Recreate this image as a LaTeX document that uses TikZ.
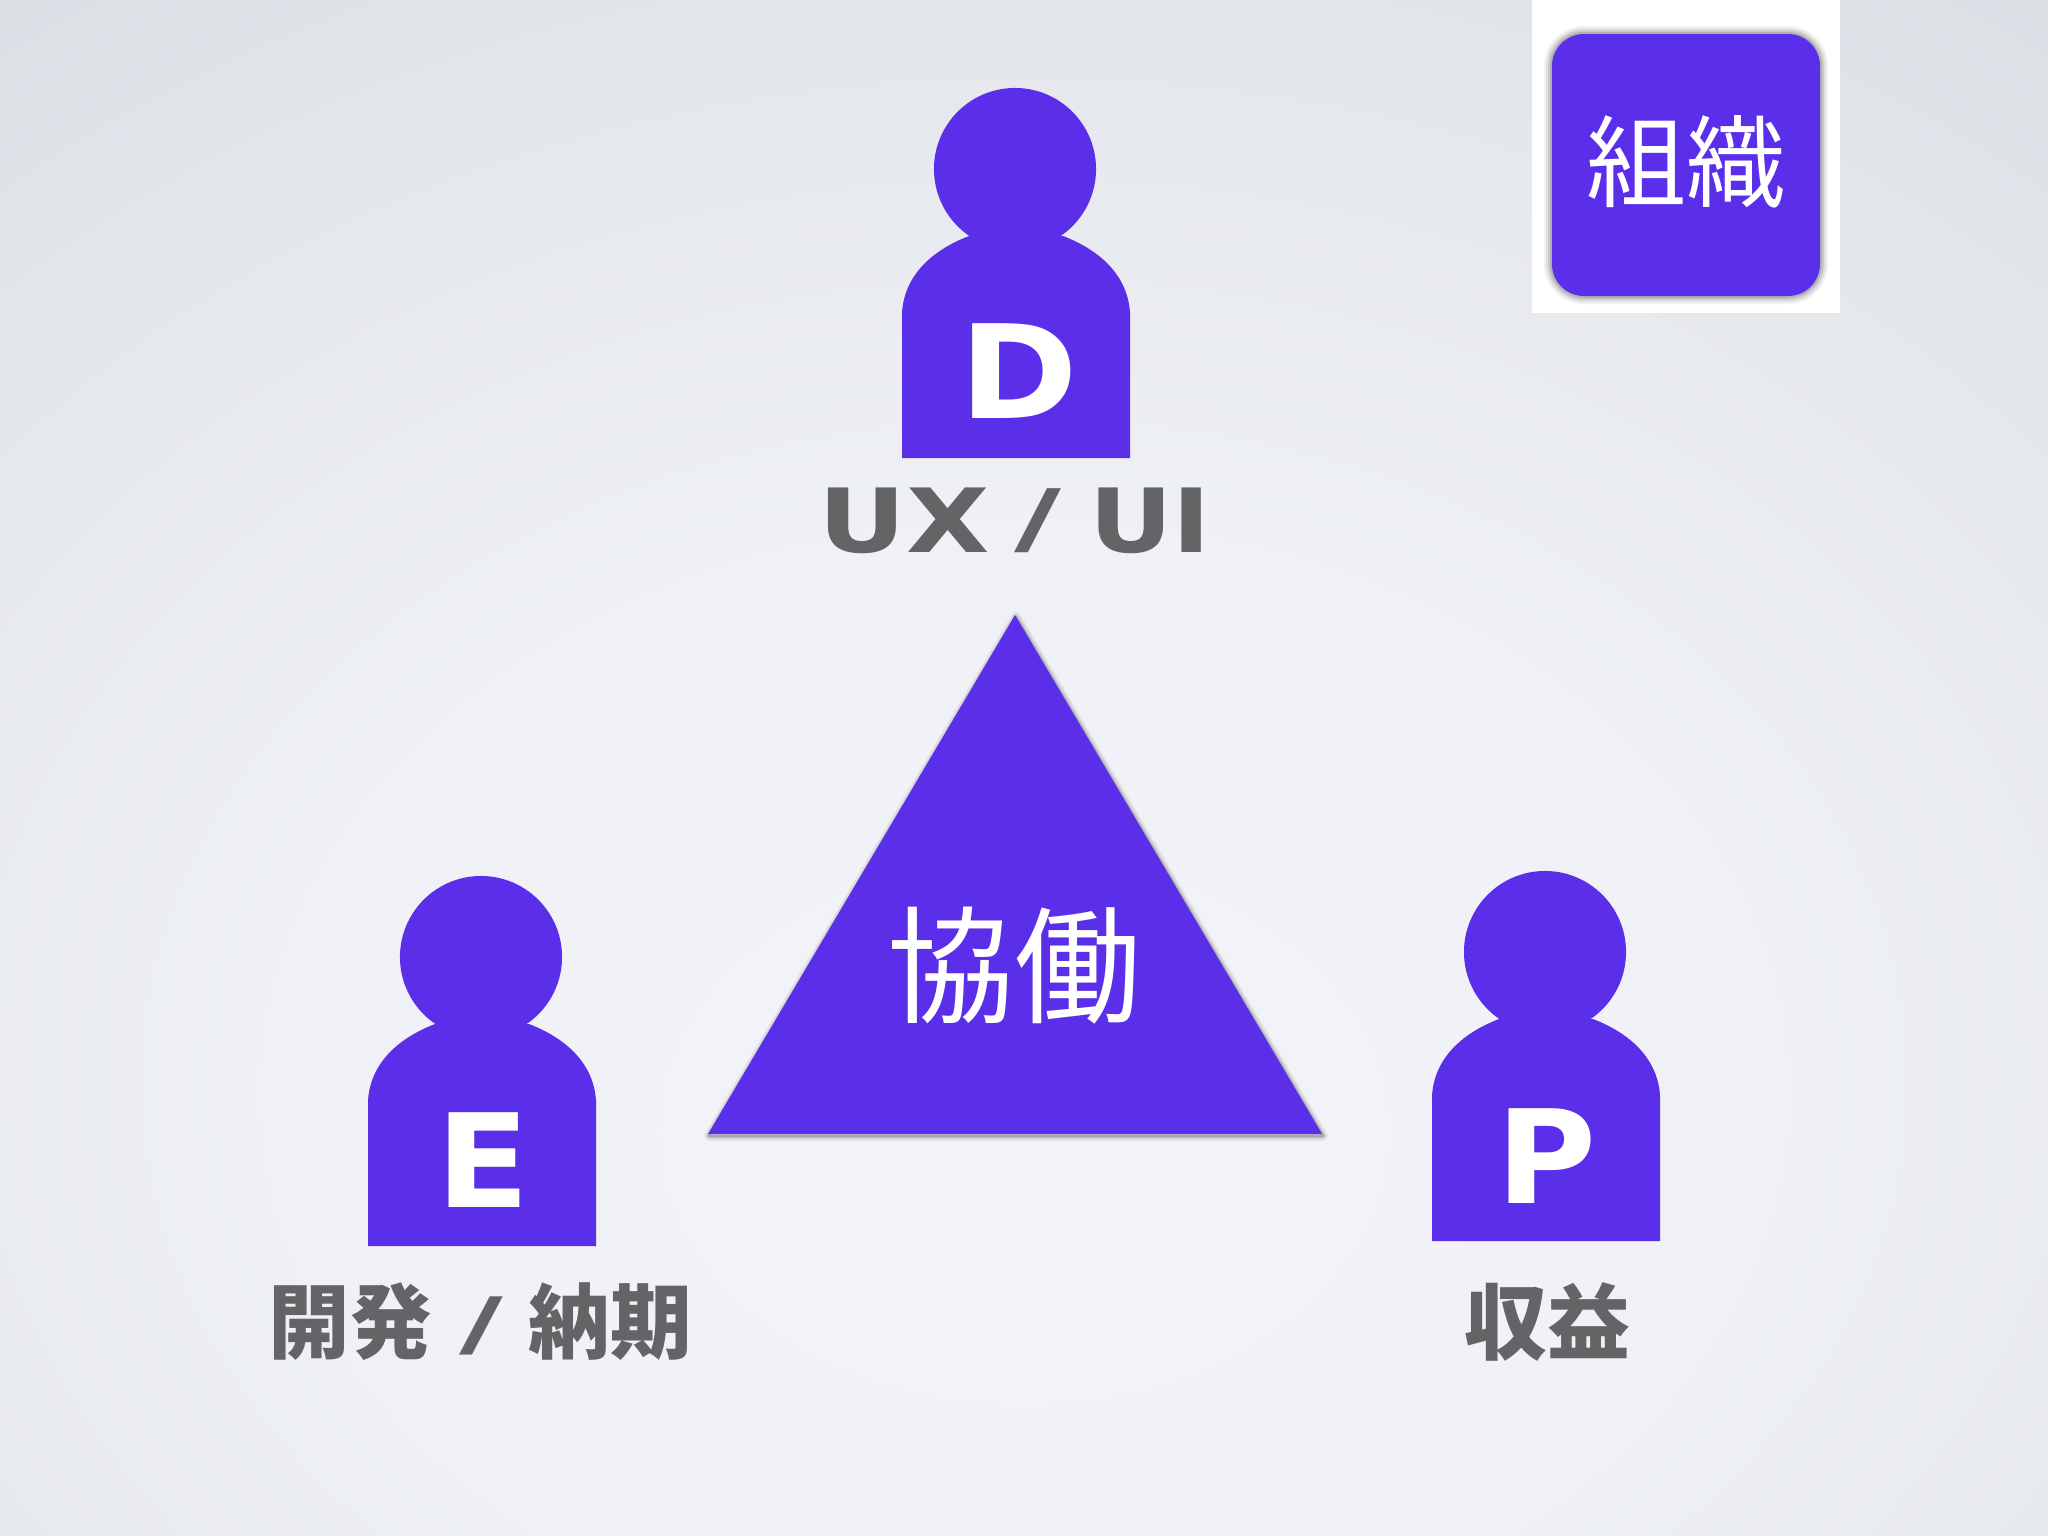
\documentclass[tikz,border=0pt]{standalone}
\usepackage{fontspec}
\newfontfamily\cjk{Noto Sans CJK JP}
\newfontfamily\latinbold{DejaVu Sans}
\definecolor{brand}{HTML}{5B2EEA}
\definecolor{labelgray}{HTML}{636466}
\definecolor{bgA}{HTML}{F3F4F9}
\definecolor{bgB}{HTML}{EFF1F6}
\definecolor{bgC}{HTML}{E4E7EC}
\definecolor{bgD}{HTML}{D3D8DE}
\pgfdeclareradialshading{bgshade}{\pgfpoint{0bp}{-13bp}}{
  color(0bp)=(bgA); color(18bp)=(bgB); color(32bp)=(bgC); color(50bp)=(bgD); color(100bp)=(bgD)}
\tikzset{
  personbody/.style={fill=brand,draw=none},
  initial/.style={font=\latinbold\bfseries\fontsize{37}{37}\selectfont,text=white,inner sep=0pt,anchor=base},
  rolelatin/.style={font=\latinbold\bfseries\fontsize{25.2}{25.2}\selectfont,text=labelgray,inner sep=0pt,anchor=base},
  rolecjk/.style={font=\cjk\bfseries\fontsize{23.2}{23.2}\selectfont,text=labelgray,inner sep=0pt,anchor=base},
  titlecjk/.style={text=white,inner sep=0pt,anchor=base}
}
\newcommand{\personshape}[2]{%
  \begin{scope}[shift={(#1,#2)}]
    \fill[personbody] (113,0) circle [radius=0.81cm];
    \fill[personbody] (0,144)
      .. controls (2,108) and (28,82) .. (67,67)
      -- (161,67)
      .. controls (200,82) and (226,108) .. (228,144)
      -- (228,289) -- (0,289) -- cycle;
  \end{scope}}
\begin{document}
\begin{tikzpicture}[x=0.01cm,y=-0.01cm]
  \useasboundingbox (0,0) rectangle (2048,1536);
  \shade[shading=bgshade] (0,0) rectangle (2048,1536);

  % organisation badge
  \fill[white] (1532,0) rectangle (1840,313);
  \foreach \w/\o in {16/0.07,12/0.10,8/0.14,4/0.20}
    \draw[black!70,opacity=\o,line width=\w*0.01cm,rounded corners=0.32cm]
      (1552,34) rectangle (1820,296);
  \fill[brand,rounded corners=0.32cm] (1552,34) rectangle (1820,296);
  \node[titlecjk,font=\cjk\fontsize{28.4}{28.4}\selectfont] (org) at (1686,199) {組織};

  % persons
  \personshape{902}{169}
  \personshape{368}{957}
  \personshape{1432}{952}
  \node[initial,xscale=1.1] (d) at (1019,418) {D};
  \node[initial,xscale=1.05] (e) at (483,1207) {E};
  \node[initial,xscale=1.05] (p) at (1547,1203) {P};

  % labels
  \node[rolelatin,xscale=1.22] (ux) at (904,552) {UX};
  \node[rolelatin,xscale=1.45,yscale=0.88] (uxslash) at (1038,545) {/};
  \node[rolelatin,xscale=1.16] (ui) at (1150,552) {UI};
  \node[rolecjk] (dev1) at (350,1352) {開発};
  \node[rolelatin,xscale=1.35,yscale=0.8] (slash) at (481,1348) {/};
  \node[rolecjk] (dev2) at (610,1352) {納期};
  \node[rolecjk,font=\cjk\bfseries\fontsize{23.6}{23.6}\selectfont] (rev) at (1547,1353) {収益};

  % triangle
  \begin{scope}[shift={(1,2)}]
  \foreach \w/\o in {10/0.07,7/0.10,4/0.16,2/0.22}
    \draw[black!70,opacity=\o,line width=\w*0.01cm,line join=round]
      (1015,615) -- (1322,1134) -- (708,1134) -- cycle;
  \end{scope}
  \fill[brand] (1015,615) -- (1322,1134) -- (708,1134) -- cycle;
  \node[titlecjk,font=\cjk\fontsize{36}{36}\selectfont] (collab) at (1014,1013) {協働};
\end{tikzpicture}
\end{document}
